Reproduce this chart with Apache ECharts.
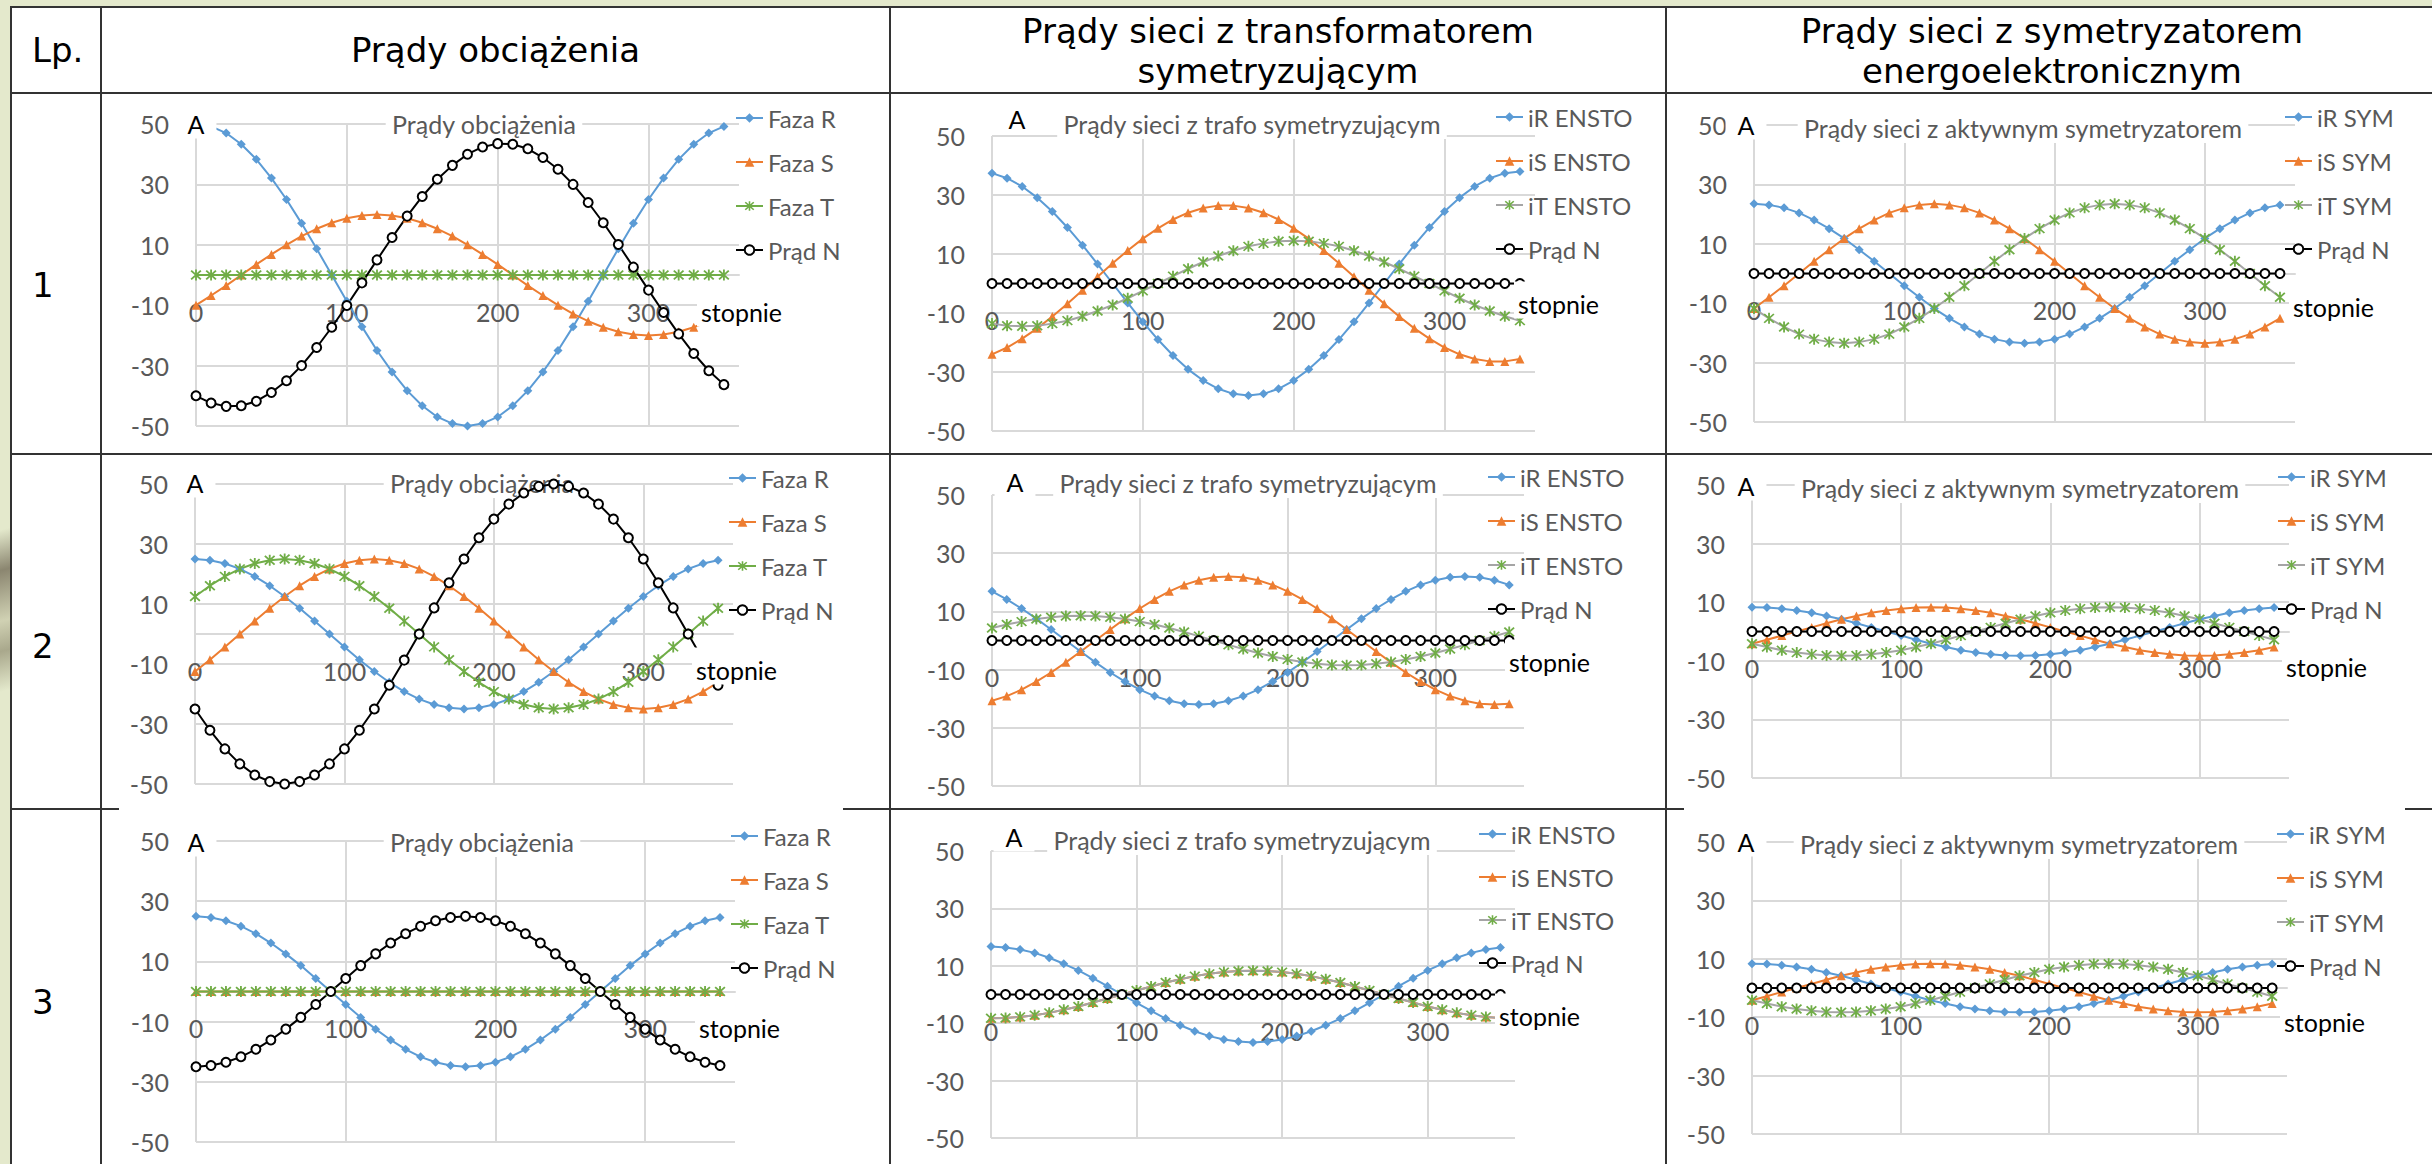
<!DOCTYPE html>
<html lang="pl">
<head>
<meta charset="utf-8">
<title>Prądy obciążenia i prądy sieci</title>
<script src="https://cdn.jsdelivr.net/npm/echarts@6.0.0/dist/echarts.min.js"></script>
<style>
  html, body { margin: 0; padding: 0; }
  body { position: relative; width: 2432px; height: 1164px; overflow: hidden; background: #e4e9cc; }
  .sheet { position: absolute; left: 10px; top: 6px; width: 2440px; height: 1200px; background: #fff; }
  .deco { position: absolute; left: 0; top: 520px; width: 10px; height: 200px;
          background: linear-gradient(165deg, rgba(0,0,0,0) 5%, #8b8670 25%, #d0d1b3 50%, #a9a88c 65%, rgba(0,0,0,0) 85%); }
  .line { position: absolute; background: #333; }
  .head { position: absolute; font-family: 'DejaVu Sans', sans-serif; font-size: 34px; line-height: 40px; color: #000; text-align: center; }
  .lp { position: absolute; left: 32px; font-family: 'DejaVu Sans', sans-serif; font-size: 34px; line-height: 40px; color: #000; }
  .chart { position: absolute; }
</style>
</head>
<body>
<div class="deco"></div>
<div class="sheet"></div>

<!-- linie tabeli -->
<div class="line" style="left:10px;top:6px;width:2440px;height:2px"></div>
<div class="line" style="left:10px;top:92px;width:2440px;height:2px"></div>
<div class="line" style="left:10px;top:453px;width:2440px;height:2px"></div>
<div class="line" style="left:10px;top:808px;width:2440px;height:2px"></div>
<div class="line" style="left:10px;top:6px;width:2px;height:1200px"></div>
<div class="line" style="left:100px;top:6px;width:2px;height:1200px"></div>
<div class="line" style="left:889px;top:6px;width:2px;height:1200px"></div>
<div class="line" style="left:1665px;top:6px;width:2px;height:1200px"></div>

<!-- nagłówki -->
<div class="lp" style="top:30px">Lp.</div>
<div class="head" style="left:102px;top:30px;width:787px">Prądy obciążenia</div>
<div class="head" style="left:891px;top:11px;width:774px">Prądy sieci z transformatorem<br>symetryzującym</div>
<div class="head" style="left:1667px;top:11px;width:770px">Prądy sieci z symetryzatorem<br>energoelektronicznym</div>
<div class="lp" style="top:265px">1</div>
<div class="lp" style="top:626px">2</div>
<div class="lp" style="top:982px">3</div>

<script>
// kąt w stopniach
var angles = [0, 10, 20, 30, 40, 50, 60, 70, 80, 90, 100, 110, 120, 130, 140, 150, 160, 170,
  180, 190, 200, 210, 220, 230, 240, 250, 260, 270, 280, 290, 300, 310, 320, 330, 340, 350];
var zero = [0, 0, 0, 0, 0, 0, 0, 0, 0, 0, 0, 0, 0, 0, 0, 0, 0, 0,
  0, 0, 0, 0, 0, 0, 0, 0, 0, 0, 0, 0, 0, 0, 0, 0, 0, 0];

var loadNames = ['Faza R', 'Faza S', 'Faza T', 'Prąd N'];
var enstoNames = ['iR ENSTO', 'iS ENSTO', 'iT ENSTO', 'Prąd N'];
var symNames = ['iR SYM', 'iS SYM', 'iT SYM', 'Prąd N'];

// 1. prądy obciążenia
var load1R = [50, 49.2, 47, 43.3, 38.3, 32.1, 25, 17.1, 8.7, 0, -8.7, -17.1, -25, -32.1, -38.3, -43.3, -47, -49.2,
  -50, -49.2, -47, -43.3, -38.3, -32.1, -25, -17.1, -8.7, 0, 8.7, 17.1, 25, 32.1, 38.3, 43.3, 47, 49.2];
var load1S = [-10, -6.8, -3.5, 0, 3.5, 6.8, 10, 12.9, 15.3, 17.3, 18.8, 19.7, 20, 19.7, 18.8, 17.3, 15.3, 12.9,
  10, 6.8, 3.5, 0, -3.5, -6.8, -10, -12.9, -15.3, -17.3, -18.8, -19.7, -20, -19.7, -18.8, -17.3, -15.3, -12.9];
var load1N = [-40, -42.4, -43.5, -43.3, -41.8, -38.9, -35, -30, -24, -17.3, -10.1, -2.6, 5, 12.4, 19.5, 26, 31.7, 36.3,
  40, 42.4, 43.5, 43.3, 41.8, 38.9, 35, 30, 24, 17.3, 10.1, 2.6, -5, -12.4, -19.5, -26, -31.7, -36.3];
// 1. trafo symetryzujący
var trafo1R = [37.4, 35.7, 32.9, 29.1, 24.4, 19, 13, 6.6, 0, -6.6, -13, -19, -24.4, -29.1, -32.9, -35.7, -37.4, -38,
  -37.4, -35.7, -32.9, -29.1, -24.4, -19, -13, -6.6, 0, 6.6, 13, 19, 24.4, 29.1, 32.9, 35.7, 37.4, 38];
var trafo1S = [-24, -21.7, -18.7, -15.2, -11.2, -6.9, -2.3, 2.3, 6.9, 11.2, 15.2, 18.7, 21.7, 24, 25.6, 26.4, 26.4, 25.6,
  24, 21.7, 18.7, 15.2, 11.2, 6.9, 2.3, -2.3, -6.9, -11.2, -15.2, -18.7, -21.7, -24, -25.6, -26.4, -26.4, -25.6];
var trafo1T = [-13.6, -14.3, -14.5, -14.3, -13.6, -12.6, -11.1, -9.3, -7.3, -5, -2.5, 0, 2.5, 5, 7.3, 9.3, 11.1, 12.6,
  13.6, 14.3, 14.5, 14.3, 13.6, 12.6, 11.1, 9.3, 7.3, 5, 2.5, 0, -2.5, -5, -7.3, -9.3, -11.1, -12.6];
// 1. symetryzator aktywny
var sym1R = [23.5, 23.1, 22.1, 20.4, 18, 15.1, 11.8, 8, 4.1, 0, -4.1, -8, -11.8, -15.1, -18, -20.4, -22.1, -23.1,
  -23.5, -23.1, -22.1, -20.4, -18, -15.1, -11.8, -8, -4.1, 0, 4.1, 8, 11.8, 15.1, 18, 20.4, 22.1, 23.1];
var sym1S = [-11.8, -8, -4.1, 0, 4.1, 8, 11.8, 15.1, 18, 20.4, 22.1, 23.1, 23.5, 23.1, 22.1, 20.4, 18, 15.1,
  11.8, 8, 4.1, 0, -4.1, -8, -11.8, -15.1, -18, -20.4, -22.1, -23.1, -23.5, -23.1, -22.1, -20.4, -18, -15.1];
var sym1T = [-11.8, -15.1, -18, -20.4, -22.1, -23.1, -23.5, -23.1, -22.1, -20.4, -18, -15.1, -11.8, -8, -4.1, 0, 4.1, 8,
  11.8, 15.1, 18, 20.4, 22.1, 23.1, 23.5, 23.1, 22.1, 20.4, 18, 15.1, 11.8, 8, 4.1, 0, -4.1, -8];

// 2. prądy obciążenia
var load2R = [25, 24.6, 23.5, 21.7, 19.2, 16.1, 12.5, 8.6, 4.3, 0, -4.3, -8.6, -12.5, -16.1, -19.2, -21.7, -23.5, -24.6,
  -25, -24.6, -23.5, -21.7, -19.2, -16.1, -12.5, -8.6, -4.3, 0, 4.3, 8.6, 12.5, 16.1, 19.2, 21.7, 23.5, 24.6];
var load2S = [-12.5, -8.6, -4.3, 0, 4.3, 8.6, 12.5, 16.1, 19.2, 21.7, 23.5, 24.6, 25, 24.6, 23.5, 21.7, 19.2, 16.1,
  12.5, 8.6, 4.3, 0, -4.3, -8.6, -12.5, -16.1, -19.2, -21.7, -23.5, -24.6, -25, -24.6, -23.5, -21.7, -19.2, -16.1];
var load2T = [12.5, 16.1, 19.2, 21.7, 23.5, 24.6, 25, 24.6, 23.5, 21.7, 19.2, 16.1, 12.5, 8.6, 4.3, 0, -4.3, -8.6,
  -12.5, -16.1, -19.2, -21.7, -23.5, -24.6, -25, -24.6, -23.5, -21.7, -19.2, -16.1, -12.5, -8.6, -4.3, 0, 4.3, 8.6];
var load2N = [-25, -32.1, -38.3, -43.3, -47, -49.2, -50, -49.2, -47, -43.3, -38.3, -32.1, -25, -17.1, -8.7, 0, 8.7, 17.1,
  25, 32.1, 38.3, 43.3, 47, 49.2, 50, 49.2, 47, 43.3, 38.3, 32.1, 25, 17.1, 8.7, 0, -8.7, -17.1];
// 2. trafo symetryzujący
var trafo2R = [16.9, 14.1, 11, 7.5, 3.8, 0, -3.8, -7.5, -11, -14.1, -16.9, -19.1, -20.7, -21.7, -22, -21.7, -20.7, -19.1,
  -16.9, -14.1, -11, -7.5, -3.8, 0, 3.8, 7.5, 11, 14.1, 16.9, 19.1, 20.7, 21.7, 22, 21.7, 20.7, 19.1];
var trafo2S = [-20.7, -19.1, -16.9, -14.1, -11, -7.5, -3.8, 0, 3.8, 7.5, 11, 14.1, 16.9, 19.1, 20.7, 21.7, 22, 21.7,
  20.7, 19.1, 16.9, 14.1, 11, 7.5, 3.8, 0, -3.8, -7.5, -11, -14.1, -16.9, -19.1, -20.7, -21.7, -22, -21.7];
var trafo2T = [4.3, 5.5, 6.5, 7.4, 8, 8.4, 8.5, 8.4, 8, 7.4, 6.5, 5.5, 4.3, 2.9, 1.5, 0, -1.5, -2.9,
  -4.3, -5.5, -6.5, -7.4, -8, -8.4, -8.5, -8.4, -8, -7.4, -6.5, -5.5, -4.3, -2.9, -1.5, 0, 1.5, 2.9];
// 2. i 3. symetryzator aktywny
var sym2R = [8.3, 8.2, 7.8, 7.2, 6.4, 5.3, 4.2, 2.8, 1.4, 0, -1.4, -2.8, -4.2, -5.3, -6.4, -7.2, -7.8, -8.2,
  -8.3, -8.2, -7.8, -7.2, -6.4, -5.3, -4.2, -2.8, -1.4, 0, 1.4, 2.8, 4.2, 5.3, 6.4, 7.2, 7.8, 8.2];
var sym2S = [-4.2, -2.8, -1.4, 0, 1.4, 2.8, 4.2, 5.3, 6.4, 7.2, 7.8, 8.2, 8.3, 8.2, 7.8, 7.2, 6.4, 5.3,
  4.2, 2.8, 1.4, 0, -1.4, -2.8, -4.2, -5.3, -6.4, -7.2, -7.8, -8.2, -8.3, -8.2, -7.8, -7.2, -6.4, -5.3];
var sym2T = [-4.2, -5.3, -6.4, -7.2, -7.8, -8.2, -8.3, -8.2, -7.8, -7.2, -6.4, -5.3, -4.2, -2.8, -1.4, 0, 1.4, 2.8,
  4.2, 5.3, 6.4, 7.2, 7.8, 8.2, 8.3, 8.2, 7.8, 7.2, 6.4, 5.3, 4.2, 2.8, 1.4, 0, -1.4, -2.8];

// 3. prądy obciążenia (tylko faza R)
var load3N = [-25, -24.6, -23.5, -21.7, -19.2, -16.1, -12.5, -8.6, -4.3, 0, 4.3, 8.6, 12.5, 16.1, 19.2, 21.7, 23.5, 24.6,
  25, 24.6, 23.5, 21.7, 19.2, 16.1, 12.5, 8.6, 4.3, 0, -4.3, -8.6, -12.5, -16.1, -19.2, -21.7, -23.5, -24.6];
// 3. trafo symetryzujący
var trafo3R = [16.7, 16.4, 15.7, 14.5, 12.8, 10.7, 8.4, 5.7, 2.9, 0, -2.9, -5.7, -8.4, -10.7, -12.8, -14.5, -15.7, -16.4,
  -16.7, -16.4, -15.7, -14.5, -12.8, -10.7, -8.4, -5.7, -2.9, 0, 2.9, 5.7, 8.4, 10.7, 12.8, 14.5, 15.7, 16.4];
var trafo3ST = [-8.3, -8.2, -7.8, -7.2, -6.4, -5.3, -4.2, -2.8, -1.4, 0, 1.4, 2.8, 4.2, 5.3, 6.4, 7.2, 7.8, 8.2,
  8.3, 8.2, 7.8, 7.2, 6.4, 5.3, 4.2, 2.8, 1.4, 0, -1.4, -2.8, -4.2, -5.3, -6.4, -7.2, -7.8, -8.2];

var asterisk = 'path://M8.5,0L11.5,0L11.5,20L8.5,20Z M1,3.1L3.1,1L19,16.9L16.9,19Z M16.9,1L19,3.1L3.1,19L1,16.9Z';

// położenie wykresów w komórkach (px)
var charts = [
  { box: [104, 96, 784, 356], title: 'Prądy obciążenia', names: loadNames, tLine: '#70AD47',
    values: [load1R, load1S, zero, load1N],
    grid: [92, 28, 543, 302], a: [92, 28], head: [380, 28], legend: [631, 10, 20], unit: [597, 216] },
  { box: [893, 96, 771, 356], title: 'Prądy sieci z trafo symetryzującym', names: enstoNames, tLine: '#A5A5A5',
    values: [trafo1R, trafo1S, trafo1T, zero],
    grid: [99, 40, 543, 295], a: [124, 23], head: [359, 28], legend: [602, 9, 20], unit: [625, 208] },
  { box: [1669, 96, 763, 356], title: 'Prądy sieci z aktywnym symetryzatorem', names: symNames, tLine: '#A5A5A5',
    values: [sym1R, sym1S, sym1T, zero],
    grid: [85, 29, 541, 297], a: [77, 29], head: [354, 32], legend: [615, 9, 20], unit: [624, 211] },
  { box: [104, 457, 784, 350], title: 'Prądy obciążenia', names: loadNames, tLine: '#70AD47',
    values: [load2R, load2S, load2T, load2N],
    grid: [91, 27, 538, 300], a: [91, 26], head: [378, 26], legend: [624, 9, 20], unit: [592, 213] },
  { box: [893, 457, 771, 350], title: 'Prądy sieci z trafo symetryzującym', names: enstoNames, tLine: '#A5A5A5',
    values: [trafo2R, trafo2S, trafo2T, zero],
    grid: [99, 38, 532, 291], a: [122, 25], head: [355, 26], legend: [594, 8, 20], unit: [616, 205] },
  { box: [1669, 457, 763, 350], title: 'Prądy sieci z aktywnym symetryzatorem', names: symNames, tLine: '#A5A5A5',
    values: [sym2R, sym2S, sym2T, zero],
    grid: [83, 28, 537, 293], a: [77, 29], head: [351, 31], legend: [608, 8, 20], unit: [617, 210] },
  { box: [119, 799, 724, 365], title: 'Prądy obciążenia', names: loadNames, tLine: '#70AD47',
    values: [load2R, zero, zero, load3N],
    grid: [77, 42, 539, 301], a: [77, 43], head: [363, 43], legend: [611, 25, 20], unit: [580, 229] },
  { box: [893, 812, 771, 352], title: 'Prądy sieci z trafo symetryzującym', names: enstoNames, tLine: '#A5A5A5',
    values: [trafo3R, trafo3ST, trafo3ST, zero],
    grid: [98, 39, 524, 287], a: [121, 25], head: [349, 28], legend: [585, 10, 19], unit: [606, 204] },
  { box: [1684, 799, 721, 365], title: 'Prądy sieci z aktywnym symetryzatorem', names: symNames, tLine: '#A5A5A5',
    values: [sym2R, sym2S, sym2T, zero],
    grid: [68, 43, 535, 292], a: [62, 43], head: [335, 45], legend: [592, 23, 20], unit: [600, 223] }
];

function buildOption(c) {
  var marks = [
    { color: '#5B9BD5', symbol: 'diamond', size: 9 },
    { color: '#ED7D31', symbol: 'triangle', size: 9 },
    { color: '#70AD47', symbol: asterisk, size: 11, line: c.tLine },
    { color: '#000000', symbol: 'emptyCircle', size: 9 }
  ];
  return {
    animation: false,
    textStyle: { fontFamily: 'Lato' },
    grid: { left: c.grid[0], top: c.grid[1], width: c.grid[2], height: c.grid[3],
      containLabel: false, outerBoundsMode: 'none' },
    xAxis: {
      type: 'value', min: 0, max: 360, interval: 100,
      position: 'bottom',
      // oś pozioma przecina oś pionową w zerze (środek skali -50..50)
      offset: -c.grid[3] / 2,
      axisLine: { show: true, onZero: false, lineStyle: { color: '#d9d9d9', width: 2 } },
      axisTick: { show: false },
      axisLabel: { color: '#595959', fontSize: 25, margin: 24, showMaxLabel: false },
      splitLine: { show: true, showMaxLine: false, lineStyle: { color: '#d9d9d9', width: 2 } }
    },
    yAxis: {
      type: 'value', min: -50, max: 50, interval: 20,
      axisLine: { show: false, onZero: false },
      axisTick: { show: false },
      axisLabel: { color: '#595959', fontSize: 25, margin: 27 },
      splitLine: { lineStyle: { color: '#d9d9d9', width: 2 } }
    },
    title: [
      { text: c.title, left: c.head[0] - 6, top: c.head[1] - 2, textAlign: 'center', textVerticalAlign: 'middle',
        padding: [2, 6, 2, 6], backgroundColor: '#fff', z: 1,
        textStyle: { color: '#595959', fontSize: 25, fontWeight: 'normal', lineHeight: 26 } },
      { text: 'A', left: c.a[0] - 12, top: c.a[1] - 8, textAlign: 'center', textVerticalAlign: 'middle',
        padding: [8, 12, 2, 12], backgroundColor: '#fff', z: 6,
        textStyle: { color: '#000', fontSize: 25, fontWeight: 'normal', lineHeight: 25 } },
      { text: 'stopnie', left: c.unit[0] - 4, top: c.unit[1] - 10, textAlign: 'left', textVerticalAlign: 'middle',
        padding: [10, 8, 2, 4], backgroundColor: '#fff', z: 6,
        textStyle: { color: '#000', fontSize: 25, fontWeight: 'normal', lineHeight: 25 } }
    ],
    legend: {
      orient: 'vertical', left: c.legend[0], top: c.legend[1], itemGap: c.legend[2],
      itemWidth: 27, itemHeight: 12, padding: 0,
      textStyle: { color: '#595959', fontSize: 24, lineHeight: 24 },
      data: c.names
    },
    series: c.values.map(function (vals, i) {
      var m = marks[i];
      return {
        name: c.names[i],
        type: 'line',
        data: angles.map(function (a, k) { return [a, vals[k]]; }),
        symbol: m.symbol,
        symbolSize: m.size,
        lineStyle: { color: m.line || m.color, width: 2 },
        itemStyle: { color: m.color }
      };
    })
  };
}

charts.forEach(function (c) {
  var el = document.createElement('div');
  el.className = 'chart';
  el.style.left = c.box[0] + 'px';
  el.style.top = c.box[1] + 'px';
  el.style.width = c.box[2] + 'px';
  el.style.height = c.box[3] + 'px';
  el.style.background = '#fff';
  document.body.appendChild(el);
  var chart = echarts.init(el, null, { renderer: 'svg' });
  chart.setOption(buildOption(c));
});
</script>
</body>
</html>
